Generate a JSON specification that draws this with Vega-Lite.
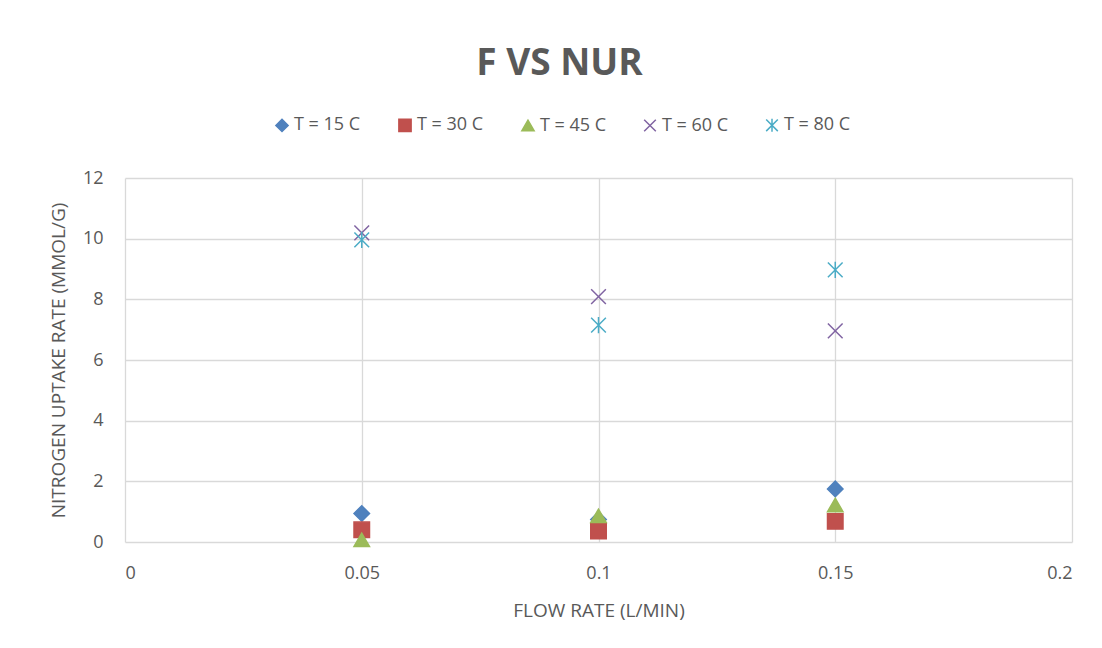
{
  "$schema": "https://vega.github.io/schema/vega-lite/v6.json",
  "width": 947,
  "height": 364,
  "autosize": "none",
  "padding": {"left": 125, "top": 178, "right": 30, "bottom": 106},
  "background": "white",
  "title": {
    "text": "F VS NUR",
    "anchor": "middle",
    "dx": -39,
    "offset": 33,
    "font": "Open Sans",
    "fontSize": 37,
    "fontWeight": "bold",
    "color": "#595959"
  },
  "data": {
    "values": [
      {"series": "T = 15 C", "flow": 0.05, "nur": 0.94},
      {"series": "T = 15 C", "flow": 0.1, "nur": 0.74},
      {"series": "T = 15 C", "flow": 0.15, "nur": 1.75},
      {"series": "T = 30 C", "flow": 0.05, "nur": 0.4},
      {"series": "T = 30 C", "flow": 0.1, "nur": 0.36},
      {"series": "T = 30 C", "flow": 0.15, "nur": 0.68},
      {"series": "T = 45 C", "flow": 0.05, "nur": 0.07},
      {"series": "T = 45 C", "flow": 0.1, "nur": 0.86},
      {"series": "T = 45 C", "flow": 0.15, "nur": 1.22},
      {"series": "T = 60 C", "flow": 0.05, "nur": 10.19},
      {"series": "T = 60 C", "flow": 0.1, "nur": 8.09},
      {"series": "T = 60 C", "flow": 0.15, "nur": 6.96},
      {"series": "T = 80 C", "flow": 0.05, "nur": 9.96},
      {"series": "T = 80 C", "flow": 0.1, "nur": 7.15},
      {"series": "T = 80 C", "flow": 0.15, "nur": 8.97}
    ]
  },
  "mark": {"type": "point", "filled": true, "size": 240, "strokeWidth": 1.5, "opacity": 1},
  "encoding": {
    "x": {
      "field": "flow",
      "type": "quantitative",
      "scale": {"domain": [0, 0.2], "nice": false},
      "axis": {
        "values": [0, 0.05, 0.1, 0.15, 0.2],
        "format": "~g",
        "title": "FLOW RATE (L/MIN)",
        "labelPadding": 22,
        "titleY": 68,
        "titleBaseline": "middle"
      }
    },
    "y": {
      "field": "nur",
      "type": "quantitative",
      "scale": {"domain": [0, 12], "nice": false},
      "axis": {
        "values": [0, 2, 4, 6, 8, 10, 12],
        "title": "NITROGEN UPTAKE RATE (MMOL/G)",
        "labelPadding": 22,
        "titleX": -67,
        "titleBaseline": "middle"
      }
    },
    "fill": {
      "field": "series",
      "type": "nominal",
      "scale": {
        "domain": ["T = 15 C", "T = 30 C", "T = 45 C", "T = 60 C", "T = 80 C"],
        "range": ["#4F81BD", "#C0504D", "#9BBB59", "#8064A2", "#4BACC6"]
      },
      "legend": {
        "orient": "none",
        "legendX": 148,
        "legendY": -62,
        "direction": "horizontal",
        "title": null,
        "padding": 0,
        "labelFont": "Open Sans",
        "labelFontSize": 18,
        "labelColor": "#595959",
        "labelOffset": 3,
        "columnPadding": 34,
        "symbolSize": 150,
        "symbolStrokeWidth": 1.5
      }
    },
    "stroke": {
      "field": "series",
      "type": "nominal",
      "scale": {
        "domain": ["T = 15 C", "T = 30 C", "T = 45 C", "T = 60 C", "T = 80 C"],
        "range": ["#4F81BD", "#C0504D", "#9BBB59", "#8064A2", "#4BACC6"]
      }
    },
    "shape": {
      "field": "series",
      "type": "nominal",
      "scale": {
        "domain": ["T = 15 C", "T = 30 C", "T = 45 C", "T = 60 C", "T = 80 C"],
        "range": [
          "diamond",
          "square",
          "triangle-up",
          "M-0.95,-0.95L0.95,0.95M-0.95,0.95L0.95,-0.95",
          "M-0.95,-0.95L0.95,0.95M-0.95,0.95L0.95,-0.95M0,-1.05L0,1.05"
        ]
      }
    }
  },
  "config": {
    "view": {"stroke": null},
    "axis": {
      "grid": true,
      "gridColor": "#d9d9d9",
      "gridWidth": 1.3,
      "domain": false,
      "ticks": false,
      "labelFont": "Open Sans",
      "labelFontSize": 18,
      "labelColor": "#595959",
      "titleFont": "Open Sans",
      "titleFontSize": 19,
      "titleFontWeight": "normal",
      "titleColor": "#595959"
    }
  }
}
